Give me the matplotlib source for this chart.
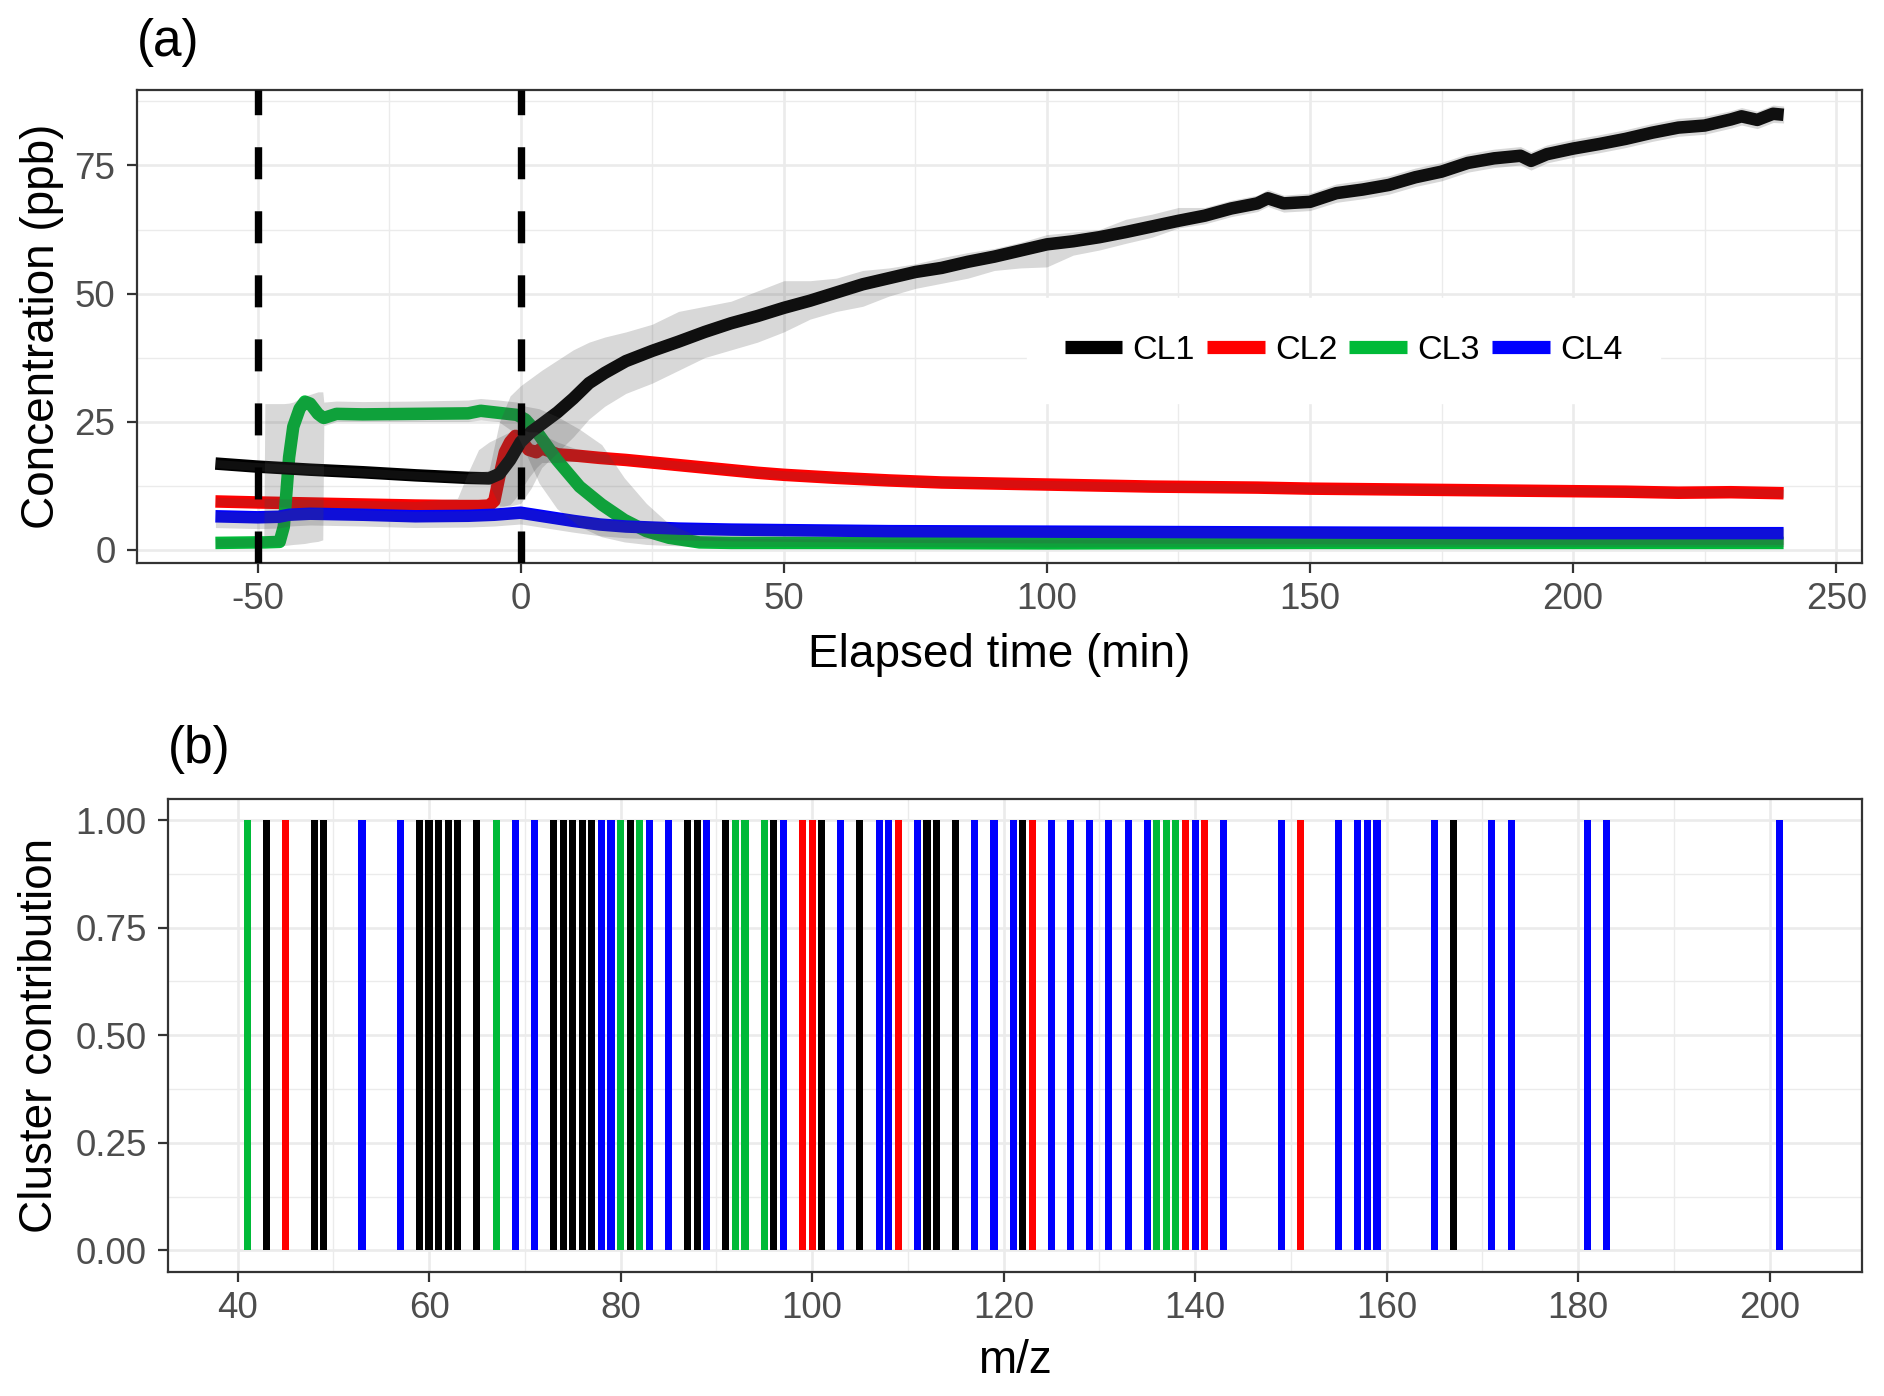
import matplotlib
matplotlib.use('Agg')
import matplotlib.pyplot as plt
from matplotlib.lines import Line2D
from matplotlib.ticker import MultipleLocator, FormatStrFormatter

plt.rcParams['font.family'] = ['Liberation Sans', 'DejaVu Sans']
plt.rcParams['axes.unicode_minus'] = False

# ---- panel (a): cluster time series ----
t_cl1 = [-58, -50, -40, -30, -20, -10, -6, -4, -2, 0, 2, 4, 7, 10, 13, 16, 20, 25, 30, 35, 40, 45,
         50, 55, 60, 65, 70, 75, 80, 85, 90, 95, 100, 105, 110, 115, 120, 125, 130, 135, 140, 142,
         145, 150, 155, 160, 165, 170, 175, 180, 185, 190, 192, 195, 200, 205, 210, 215, 220, 225,
         230, 232, 235, 238, 240]
y_cl1 = [16.8, 16.2, 15.6, 15.1, 14.5, 14.0, 13.9, 14.8, 17.5, 21.0, 23.0, 24.5, 26.8, 29.5, 32.5,
         34.5, 36.8, 38.8, 40.6, 42.5, 44.2, 45.6, 47.2, 48.6, 50.2, 51.8, 53.0, 54.2, 55.0, 56.2,
         57.2, 58.4, 59.6, 60.2, 61.0, 62.0, 63.1, 64.2, 65.2, 66.6, 67.6, 68.6, 67.6, 67.9, 69.6,
         70.3, 71.2, 72.7, 73.8, 75.5, 76.4, 76.9, 75.9, 77.2, 78.3, 79.2, 80.2, 81.4, 82.4, 82.8,
         84.0, 84.6, 83.9, 85.1, 84.9]
lo_cl1 = [16.0, 15.4, 14.8, 14.3, 13.7, 13.2, 12.8, 8.5, 8.5, 9.0, 12.0, 16.0, 19.0, 22.0, 25.5,
          28.0, 30.5, 32.5, 35.0, 37.5, 39.0, 40.5, 42.5, 45.0, 46.5, 47.5, 49.5, 51.0, 52.0, 53.0,
          54.5, 55.0, 55.2, 57.5, 58.5, 59.8, 61.0, 62.8, 63.6, 65.0, 66.0, 67.0, 65.9, 66.2, 67.8,
          68.5, 69.4, 70.9, 72.0, 73.7, 74.6, 75.1, 74.1, 75.5, 76.6, 77.5, 78.5, 79.7, 80.7, 81.1,
          82.3, 82.9, 82.2, 83.4, 83.3]
hi_cl1 = [17.6, 17.0, 16.4, 15.9, 15.3, 14.8, 15.5, 25.0, 30.0, 32.0, 33.5, 35.0, 37.0, 39.0, 40.5,
          41.5, 42.5, 44.0, 46.5, 47.5, 48.5, 50.5, 52.5, 52.5, 53.0, 54.5, 55.0, 55.8, 57.0, 58.0,
          58.8, 60.0, 61.5, 62.0, 62.5, 64.5, 65.5, 66.8, 66.8, 68.2, 69.2, 70.3, 69.2, 69.6, 71.4,
          72.1, 73.0, 74.5, 75.6, 77.3, 78.2, 78.7, 77.7, 79.0, 80.1, 81.0, 82.0, 83.2, 84.2, 84.6,
          85.7, 86.3, 85.6, 86.8, 86.6]

t_cl2 = [-58, -50, -40, -30, -20, -12, -10, -8, -6, -5, -4, -3, -2, -1, 0, 1.5, 3, 4, 7, 11, 15, 20,
         25, 30, 35, 40, 45, 50, 60, 70, 80, 90, 100, 110, 120, 130, 140, 150, 160, 170, 180, 190,
         200, 210, 220, 230, 240]
y_cl2 = [9.4, 9.2, 9.0, 8.8, 8.6, 8.5, 8.5, 8.5, 8.6, 9.5, 14.5, 19.0, 21.0, 22.2, 21.5, 19.5, 19.0,
         19.8, 18.6, 18.3, 17.9, 17.5, 17.0, 16.5, 16.0, 15.5, 15.0, 14.6, 14.0, 13.5, 13.1, 12.9,
         12.7, 12.5, 12.3, 12.2, 12.1, 11.9, 11.8, 11.7, 11.6, 11.5, 11.4, 11.3, 11.1, 11.2, 11.0]
lo_cl2 = [8.6, 8.4, 8.2, 8.0, 7.8, 7.8, 7.8, 7.9, 8.0, 8.0, 8.2, 8.5, 8.8, 10.0, 11.5, 14.0, 16.0,
          17.0, 17.0, 17.3, 17.1, 16.7, 16.2, 15.7, 15.2, 14.7, 14.2, 13.8, 13.2, 12.7, 12.3, 12.1,
          11.9, 11.7, 11.5, 11.4, 11.3, 11.1, 11.0, 10.9, 10.8, 10.7, 10.6, 10.5, 10.3, 10.4, 10.2]
hi_cl2 = [10.2, 10.0, 9.8, 9.6, 9.4, 10.0, 15.0, 19.5, 21.0, 21.5, 22.0, 22.5, 23.0, 23.5, 23.5,
          23.0, 23.0, 22.5, 21.0, 19.5, 18.7, 18.3, 17.8, 17.3, 16.8, 16.3, 15.8, 15.4, 14.8, 14.3,
          13.9, 13.7, 13.5, 13.3, 13.1, 13.0, 12.9, 12.7, 12.6, 12.5, 12.4, 12.3, 12.2, 12.1, 11.9,
          12.0, 11.8]

t_cl3 = [-58, -50, -48.8, -48.6, -45.8, -45, -44, -43.2, -42, -41, -40, -38.5, -37.6, -37.4, -35,
         -30, -20, -10, -7.6, -4.2, -0.7, 0.9, 3.5, 6.9, 11.2, 15.4, 19.7, 23.9, 28.2, 34, 40, 60,
         100, 150, 200, 240]
y_cl3 = [1.3, 1.4, 1.4, 1.4, 1.5, 4.5, 18.0, 24.0, 27.5, 28.9, 28.5, 26.5, 25.8, 25.7, 26.5, 26.4,
         26.5, 26.6, 27.1, 26.7, 26.3, 25.4, 22.4, 17.5, 12.3, 8.8, 5.8, 3.6, 2.3, 1.4, 1.3, 1.3,
         1.2, 1.3, 1.3, 1.3]
lo_cl3 = [0.5, 0.6, 0.6, 0.6, 0.7, 0.8, 0.9, 1.0, 1.1, 1.2, 1.4, 1.6, 1.9, 24.2, 25.0, 25.0, 25.0,
          25.0, 25.3, 25.0, 22.5, 19.0, 13.0, 8.0, 4.5, 2.5, 1.5, 1.0, 0.8, 0.6, 0.6, 0.6, 0.5, 0.6,
          0.6, 0.6]
hi_cl3 = [2.2, 2.3, 2.3, 28.5, 28.5, 28.5, 28.6, 28.8, 29.5, 30.0, 30.3, 30.8, 30.8, 28.8, 29.0,
          28.9, 29.0, 29.2, 29.5, 29.2, 28.8, 28.0, 27.5, 26.0, 23.5, 20.5, 14.0, 9.0, 5.0, 2.5, 2.2,
          2.1, 2.0, 2.1, 2.1, 2.1]

t_cl4 = [-58, -50, -46, -44, -40, -30, -20, -10, -5, 0, 5, 10, 15, 20, 25, 30, 40, 50, 70, 100, 130,
         160, 200, 240]
y_cl4 = [6.5, 6.3, 6.4, 6.8, 7.0, 6.8, 6.5, 6.6, 6.8, 7.2, 6.4, 5.6, 4.9, 4.5, 4.3, 4.1, 3.9, 3.8,
         3.6, 3.5, 3.4, 3.3, 3.2, 3.2]
lo_cl4 = [4.3, 4.1, 4.2, 4.6, 4.8, 4.6, 4.3, 4.4, 4.6, 5.0, 4.2, 3.4, 2.7, 2.3, 2.1, 1.9, 1.7, 1.6,
          1.4, 1.3, 1.2, 1.1, 1.0, 1.0]
hi_cl4 = [7.5, 7.3, 7.4, 7.8, 8.0, 7.8, 7.5, 7.6, 7.8, 8.2, 7.4, 6.6, 5.9, 5.5, 5.3, 5.1, 4.9, 4.8,
          4.6, 4.5, 4.4, 4.3, 4.2, 4.2]

event_times = [-50, 0]
cluster_names = ['CL1', 'CL2', 'CL3', 'CL4']
cluster_colors = {'CL1': '#000000', 'CL2': '#FF0000', 'CL3': '#00BA38', 'CL4': '#0000FF'}

# ---- panel (b): cluster assignment of each ion ----
mz = [41, 43, 45, 48, 49, 53, 57, 59, 60, 61, 62, 63, 65, 67, 69, 71, 73, 74, 75, 76, 77, 78, 79,
      80, 81, 82, 83, 85, 87, 88, 89, 91, 92, 93, 95, 96, 97, 99, 100, 101, 103, 105, 107, 108,
      109, 111, 112, 113, 115, 117, 119, 121, 122, 123, 125, 127, 129, 131, 133, 135, 136, 137,
      138, 139, 140, 141, 143, 149, 151, 155, 157, 158, 159, 165, 167, 171, 173, 181, 183, 201]
mz_cluster = ['CL3', 'CL1', 'CL2', 'CL1', 'CL1', 'CL4', 'CL4', 'CL1', 'CL1', 'CL1', 'CL1', 'CL1',
              'CL1', 'CL3', 'CL4', 'CL4', 'CL1', 'CL1', 'CL1', 'CL1', 'CL1', 'CL4', 'CL4', 'CL3',
              'CL1', 'CL3', 'CL4', 'CL4', 'CL1', 'CL1', 'CL4', 'CL1', 'CL3', 'CL3', 'CL3', 'CL1',
              'CL4', 'CL2', 'CL2', 'CL1', 'CL4', 'CL1', 'CL4', 'CL4', 'CL2', 'CL4', 'CL1', 'CL1',
              'CL1', 'CL4', 'CL4', 'CL4', 'CL1', 'CL2', 'CL4', 'CL4', 'CL4', 'CL4', 'CL4', 'CL4',
              'CL3', 'CL3', 'CL3', 'CL2', 'CL4', 'CL2', 'CL4', 'CL4', 'CL2', 'CL4', 'CL4', 'CL4',
              'CL4', 'CL4', 'CL1', 'CL4', 'CL4', 'CL4', 'CL4', 'CL4']
contribution = [1.0] * len(mz)

W, H = 1884, 1396
fig = plt.figure(figsize=(W / 100, H / 100), dpi=100)

# axes placed in pixel terms to match the reference layout
def px_axes(left, top, right, bottom):
    return fig.add_axes([left / W, 1 - bottom / H, (right - left) / W, (bottom - top) / H])

ax1 = px_axes(137, 89.7, 1862, 563.4)
ax2 = px_axes(168.3, 798.5, 1862, 1272)

def style(ax):
    ax.set_axisbelow(True)
    ax.grid(which='major', color='#EBEBEB', lw=1.9)
    ax.grid(which='minor', color='#EBEBEB', lw=1.0)
    for s in ax.spines.values():
        s.set_color('#333333')
        s.set_linewidth(1.6)
    ax.tick_params(which='major', length=7.5, width=1.6, color='#333333',
                   labelsize=26.5, labelcolor='#4D4D4D')
    ax.tick_params(axis='x', pad=6)
    ax.tick_params(axis='y', pad=8)
    ax.tick_params(which='minor', length=0)

# panel (a): lines first, then the grey ribbons over them, then the event lines
series = [
    ('CL2', t_cl2, y_cl2, lo_cl2, hi_cl2),
    ('CL3', t_cl3, y_cl3, lo_cl3, hi_cl3),
    ('CL4', t_cl4, y_cl4, lo_cl4, hi_cl4),
    ('CL1', t_cl1, y_cl1, lo_cl1, hi_cl1),
]
for name, t, y, lo, hi in series:
    ax1.plot(t, y, color=cluster_colors[name], lw=9, solid_capstyle='butt',
             solid_joinstyle='round', zorder=2)
for name, t, y, lo, hi in series:
    ax1.fill_between(t, lo, hi, color='#474747', alpha=0.21, lw=0, zorder=3)
for ev in event_times:
    ax1.axvline(ev, color='black', lw=5.3, linestyle=(0, (4.35, 4.35)),
                dash_capstyle='butt', zorder=4)

ax1.set_xlim(-72.9, 254.9)
ax1.set_ylim(-2.7, 89.8)
ax1.xaxis.set_major_locator(MultipleLocator(50))
ax1.xaxis.set_minor_locator(MultipleLocator(25))
ax1.yaxis.set_major_locator(MultipleLocator(25))
ax1.yaxis.set_minor_locator(MultipleLocator(12.5))
style(ax1)

ax1.set_xlabel('Elapsed time (min)', fontsize=33)
ax1.xaxis.label.set_va('center')
ax1.xaxis.set_label_coords(0.5, -0.1934)
ax1.set_ylabel('Concentration (ppb)', fontsize=33)
ax1.yaxis.label.set_va('center')
ax1.yaxis.set_label_coords(-0.055, 0.5)

handles = [Line2D([], [], color=cluster_colors[c], lw=9.5, solid_capstyle='butt')
           for c in cluster_names]
leg = ax1.legend(handles, cluster_names, loc='center', bbox_to_anchor=(0.6994, 0.4494),
                 ncol=4, fontsize=24.5, handlelength=1.7, handletextpad=0.3,
                 columnspacing=0.35, borderpad=1.1, frameon=True, fancybox=False,
                 framealpha=1, facecolor='white', edgecolor='white')
leg.set_zorder(5)

# panel (b)
bar_colors = [cluster_colors[c] for c in mz_cluster]
ax2.bar(mz, contribution, width=0.74, color=bar_colors, lw=0, zorder=2)
ax2.set_xlim(32.77, 209.65)
ax2.set_ylim(-0.05, 1.05)
ax2.xaxis.set_major_locator(MultipleLocator(20))
ax2.xaxis.set_minor_locator(MultipleLocator(10))
ax2.yaxis.set_major_locator(MultipleLocator(0.25))
ax2.yaxis.set_minor_locator(MultipleLocator(0.125))
ax2.yaxis.set_major_formatter(FormatStrFormatter('%.2f'))
style(ax2)

ax2.set_xlabel('m/z', fontsize=33)
ax2.xaxis.label.set_va('center')
ax2.xaxis.set_label_coords(0.5, -0.189)
ax2.set_ylabel('Cluster contribution', fontsize=33)
ax2.yaxis.label.set_va('center')
ax2.yaxis.set_label_coords(-0.0757, 0.5)

# panel tags
fig.text(137 / W, 1 - 56 / H, '(a)', fontsize=37, ha='left', va='baseline')
fig.text(168 / W, 1 - 763 / H, '(b)', fontsize=37, ha='left', va='baseline')

fig.savefig('out.png', dpi=100)
